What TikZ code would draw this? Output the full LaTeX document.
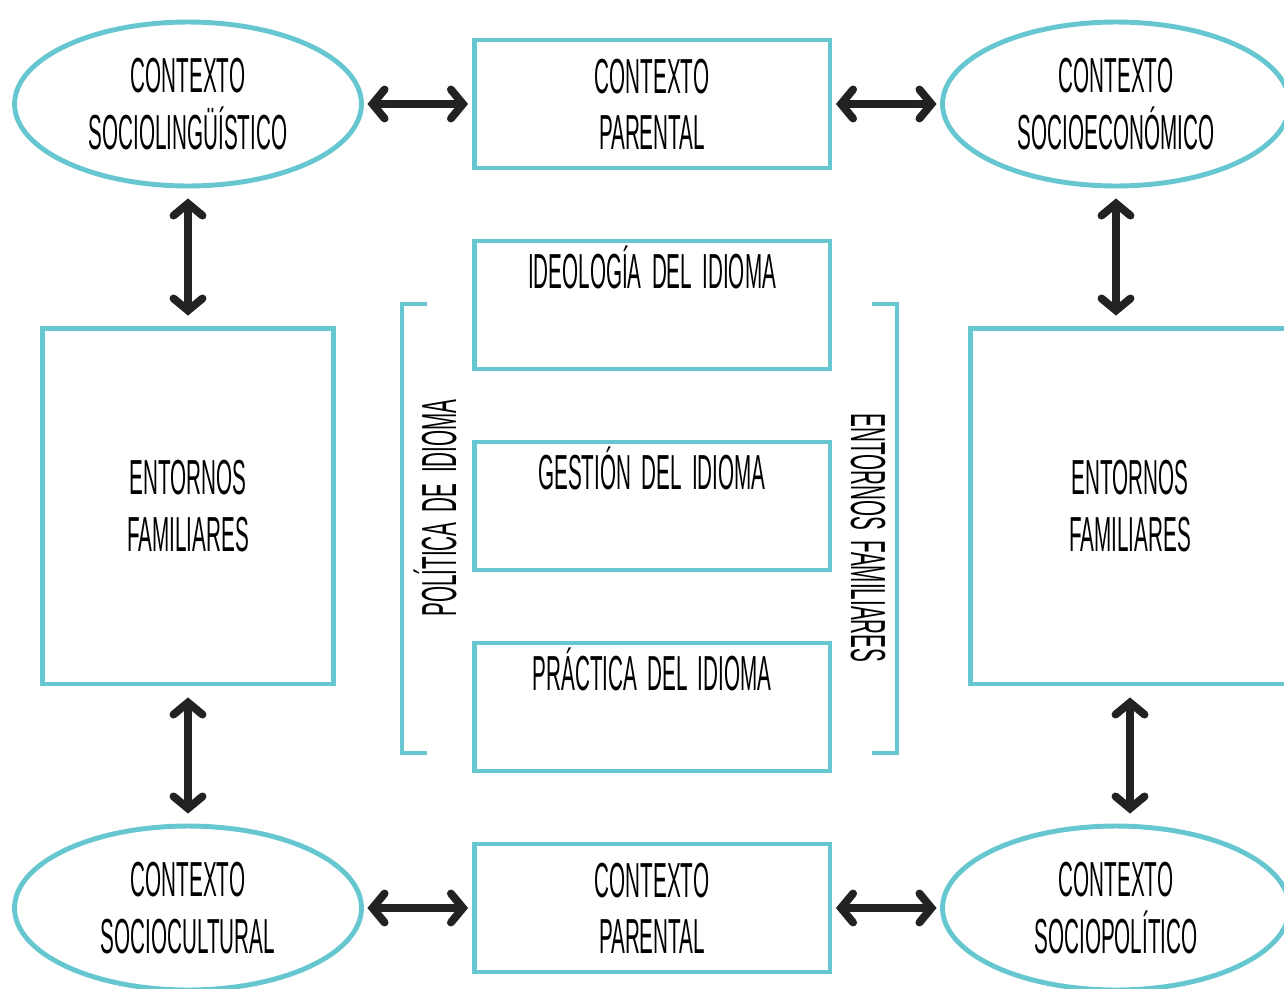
\documentclass[tikz,border=0pt]{standalone}
\usepackage{fontspec}
\setmainfont{Liberation Sans}[FakeStretch=0.42, WordSpace=1.8]
\usepackage{tikz}
\usetikzlibrary{positioning, arrows.meta, shapes.geometric, calc}
\definecolor{tealline}{RGB}{102,199,209}
\definecolor{arrowdark}{RGB}{34,34,34}

\begin{document}
\begin{tikzpicture}[
    x=0.02cm, y=-0.02cm,
    ctx/.style={ellipse, draw=tealline, line width=2.8pt, minimum width=6.94cm,
                minimum height=3.28cm, align=center, inner sep=0pt,
                font=\fontsize{28}{32}\selectfont},
    box/.style={rectangle, draw=tealline, line width=2.8pt, minimum width=7.12cm,
                minimum height=2.56cm, align=center, inner sep=0pt,
                font=\fontsize{28}{32}\selectfont},
    bigbox/.style={rectangle, draw=tealline, line width=2.8pt, minimum height=7.12cm,
                align=center, font=\fontsize{28}{32}\selectfont},
    lbl/.style={font=\fontsize{28}{32}\selectfont, inner sep=0pt},
    brk/.style={tealline, line width=2.8pt},
    arr/.style={{Straight Barb[length=0.24cm, width=0.58cm, line cap=round]}-{Straight Barb[length=0.24cm, width=0.58cm, line cap=round]},
                line width=4.5pt, arrowdark, line cap=round, shorten <=2pt, shorten >=2pt}
]
\clip (0,0) rectangle (1284,988);
\useasboundingbox (0,0) rectangle (1284,988);

% top row
\node[ctx] (sl) at (188,104) {CONTEXTO\\SOCIOLINGÜÍSTICO};
\node[box] (pt) at (652,104) {CONTEXTO\\PARENTAL};
\node[ctx] (se) at (1116,104) {CONTEXTO\\SOCIOECONÓMICO};

% family settings
\node[bigbox, minimum width=5.82cm] (fl) at (188,506) {ENTORNOS\\FAMILIARES};
\node[bigbox, minimum width=6.4cm] (fr) at (1130,506) {ENTORNOS\\FAMILIARES};

% language policy
\node[box] (ideo) at (652,305) {};
\node[box] (gest) at (652,506) {};
\node[box] (prac) at (652,707) {};
\node[lbl, anchor=base] (ideotxt) at ($(ideo.north)+(0,50)$) {IDEOLOGÍA DEL IDIOMA};
\node[lbl, anchor=base] (gesttxt) at ($(gest.north)+(0,50)$) {GESTIÓN DEL IDIOMA};
\node[lbl, anchor=base] (practxt) at ($(prac.north)+(0,50)$) {PRÁCTICA DEL IDIOMA};

\draw[brk] (427,304) -- (402,304) -- (402,753) -- (427,753);
\draw[brk] (872,304) -- (897,304) -- (897,753) -- (872,753);
\node[lbl, rotate=90] (pol) at (435,508) {POLÍTICA DE IDIOMA};
\node[lbl, rotate=-90] (ent) at (868,538) {ENTORNOS FAMILIARES};

% bottom row
\node[ctx] (sc) at (188,908) {CONTEXTO\\SOCIOCULTURAL};
\node[box] (pb) at (652,908) {CONTEXTO\\PARENTAL};
\node[ctx] (sp) at (1116,908) {CONTEXTO\\SOCIOPOLÍTICO};

% arrows
\draw[arr] (sl) -- (pt);
\draw[arr] (pt) -- (se);
\draw[arr] (sc) -- (pb);
\draw[arr] (pb) -- (sp);
\draw[arr, shorten <=0.2cm, shorten >=0.2cm] (sl.south) -- (sl.south |- fl.north);
\draw[arr, shorten <=0.2cm, shorten >=0.2cm] (se.south) -- (se.south |- fr.north);
\draw[arr, shorten <=0.22cm, shorten >=0.2cm] (fl.south) -- (fl.south |- sc.north);
\draw[arr, shorten <=0.22cm, shorten >=0.2cm] (fr.south) -- (fr.south |- sp.north);
\end{tikzpicture}
\end{document}
